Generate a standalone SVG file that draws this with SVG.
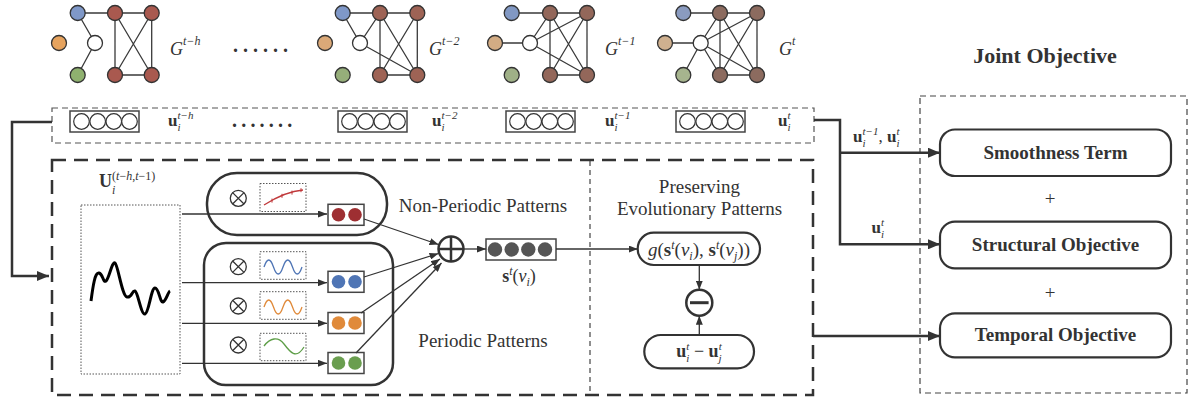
<svg xmlns="http://www.w3.org/2000/svg" width="1189" height="400" viewBox="0 0 1189 400">
<style>
text{font-family:"Liberation Serif","Times New Roman",serif;fill:#333}
.it{font-style:italic}
.b{font-weight:bold}
.e{stroke:#3a3a3a;stroke-width:1.3;fill:none}
.n{stroke:#333;stroke-width:1.3}
.vb{fill:#fff;stroke:#444;stroke-width:1.5}
.vc{fill:#fff;stroke:#333;stroke-width:1.2}
.thick{stroke:#333;stroke-width:2.5;fill:none}
.thin{stroke:#333;stroke-width:1.3;fill:none}
.pill{fill:#fff;stroke:#333;stroke-width:2.2}
.dot{fill:none;stroke:#555;stroke-width:1;stroke-dasharray:1.5 1.5}
</style>
<defs>
<marker id="ab" markerUnits="userSpaceOnUse" markerWidth="12" markerHeight="10" refX="12" refY="5" orient="auto"><path d="M0,0 L12,5 L0,10 z" fill="#333"/></marker>
<marker id="as" markerUnits="userSpaceOnUse" markerWidth="9" markerHeight="7" refX="9" refY="3.5" orient="auto"><path d="M0,0 L9,3.5 L0,7 z" fill="#333"/></marker>
</defs>

<!-- Graphs -->
<g id="graph-t-h">
<g class="e"><path d="M77.7,13 H151.7 M77.7,13 L95,43 L77.7,75 M115,13 V75 M151.7,13 V75 M115,13 L151.7,75 M151.7,13 L115,75 M115,75 H151.7"/></g>
<g class="n"><circle cx="77.7" cy="13" r="7.5" fill="#7f98c8"/><circle cx="115" cy="13" r="7.5" fill="#a9594f"/><circle cx="151.7" cy="13" r="7.5" fill="#a9594f"/><circle cx="59" cy="43" r="7.5" fill="#e6a35e"/><circle cx="95" cy="43" r="7.5" fill="#fff"/><circle cx="77.7" cy="75" r="7.5" fill="#8fb16f"/><circle cx="115" cy="75" r="7.5" fill="#a9594f"/><circle cx="151.7" cy="75" r="7.5" fill="#a9594f"/></g>
<text x="170" y="55" font-size="18" class="it" fill="#444">G<tspan font-size="12" dy="-10">t−h</tspan></text>
</g>
<text x="233" y="52" font-size="20" class="b" letter-spacing="5">......</text>
<g id="graph-t-2">
<g class="e"><path d="M342.7,13 H417.3 M342.7,13 L360,43 L380,13 M380,13 V75 M417.3,13 V75 M380,13 L417.3,75 M417.3,13 L380,75 M380,75 H417.3 M360,43 L417.3,75"/></g>
<g class="n"><circle cx="342.7" cy="13" r="7.5" fill="#7f98c8"/><circle cx="380" cy="13" r="7.5" fill="#9e6355"/><circle cx="417.3" cy="13" r="7.5" fill="#9e6355"/><circle cx="325" cy="43" r="7.5" fill="#dba978"/><circle cx="360" cy="43" r="7.5" fill="#fff"/><circle cx="342.7" cy="75" r="7.5" fill="#96ae7a"/><circle cx="380" cy="75" r="7.5" fill="#9e6355"/><circle cx="417.3" cy="75" r="7.5" fill="#9e6355"/></g>
<text x="429" y="55" font-size="18" class="it" fill="#444">G<tspan font-size="12" dy="-10">t−2</tspan></text>
</g>
<g id="graph-t-1">
<g class="e"><path d="M511.7,13 H587 M495,43 H530 M530,43 L550,13 M530,43 L587,13 M530,43 L587,75 M550,13 V75 M587,13 V75 M550,13 L587,75 M587,13 L550,75 M550,75 H587"/></g>
<g class="n"><circle cx="511.7" cy="13" r="7.5" fill="#8198c3"/><circle cx="550" cy="13" r="7.5" fill="#93675a"/><circle cx="587" cy="13" r="7.5" fill="#93675a"/><circle cx="495" cy="43" r="7.5" fill="#d3ac84"/><circle cx="530" cy="43" r="7.5" fill="#fff"/><circle cx="511.7" cy="75" r="7.5" fill="#9fb087"/><circle cx="550" cy="75" r="7.5" fill="#93675a"/><circle cx="587" cy="75" r="7.5" fill="#93675a"/></g>
<text x="605" y="55" font-size="18" class="it" fill="#444">G<tspan font-size="12" dy="-10">t−1</tspan></text>
</g>
<g id="graph-t">
<g class="e"><path d="M683.3,13 H757 M665,43 H700.7 M700.7,43 L720,13 M700.7,43 L757,13 M700.7,43 L757,75 M700.7,43 L720,75 M700.7,43 L683.3,75 M720,13 V75 M757,13 V75 M720,13 L757,75 M757,13 L720,75 M720,75 H757"/></g>
<g class="n"><circle cx="683.3" cy="13" r="7.5" fill="#8a9bc0"/><circle cx="720" cy="13" r="7.5" fill="#8c6b5f"/><circle cx="757" cy="13" r="7.5" fill="#8c6b5f"/><circle cx="665" cy="43" r="7.5" fill="#cfb08f"/><circle cx="700.7" cy="43" r="7.5" fill="#fff"/><circle cx="683.3" cy="75" r="7.5" fill="#a6b48e"/><circle cx="720" cy="75" r="7.5" fill="#8c6b5f"/><circle cx="757" cy="75" r="7.5" fill="#8c6b5f"/></g>
<text x="779" y="55" font-size="18" class="it" fill="#444">G<tspan font-size="12" dy="-10">t</tspan></text>
</g>

<!-- Embedding row -->
<g id="embeddings">
<rect x="52" y="108" width="762" height="35" fill="none" stroke="#555" stroke-width="1.2" stroke-dasharray="6 4"/>
<g id="emb-t-h"><rect class="vb" x="70" y="111" width="69" height="21"/><circle class="vc" cx="81.5" cy="121.5" r="7.8"/><circle class="vc" cx="97.7" cy="121.5" r="7.8"/><circle class="vc" cx="113.8" cy="121.5" r="7.8"/><circle class="vc" cx="129.5" cy="121.5" r="7.8"/>
<text x="168" y="126" font-size="17"><tspan class="b">u</tspan><tspan class="it" font-size="11" dy="5">i</tspan><tspan class="it" font-size="11" dx="-3" dy="-12">t−h</tspan></text></g>
<text x="232" y="127" font-size="20" class="b" letter-spacing="4.2">.......</text>
<g id="emb-t-2"><rect class="vb" x="338" y="111" width="69" height="21"/><circle class="vc" cx="349.5" cy="121.5" r="7.8"/><circle class="vc" cx="365.7" cy="121.5" r="7.8"/><circle class="vc" cx="381.8" cy="121.5" r="7.8"/><circle class="vc" cx="397.5" cy="121.5" r="7.8"/>
<text x="432" y="126" font-size="17"><tspan class="b">u</tspan><tspan class="it" font-size="11" dy="5">i</tspan><tspan class="it" font-size="11" dx="-3" dy="-12">t−2</tspan></text></g>
<g id="emb-t-1"><rect class="vb" x="506" y="111" width="69" height="21"/><circle class="vc" cx="517.5" cy="121.5" r="7.8"/><circle class="vc" cx="533.7" cy="121.5" r="7.8"/><circle class="vc" cx="549.8" cy="121.5" r="7.8"/><circle class="vc" cx="565.5" cy="121.5" r="7.8"/>
<text x="605" y="126" font-size="17"><tspan class="b">u</tspan><tspan class="it" font-size="11" dy="5">i</tspan><tspan class="it" font-size="11" dx="-3" dy="-12">t−1</tspan></text></g>
<g id="emb-t"><rect class="vb" x="676" y="111" width="69" height="21"/><circle class="vc" cx="687.5" cy="121.5" r="7.8"/><circle class="vc" cx="703.7" cy="121.5" r="7.8"/><circle class="vc" cx="719.8" cy="121.5" r="7.8"/><circle class="vc" cx="735.5" cy="121.5" r="7.8"/>
<text x="778" y="126" font-size="17"><tspan class="b">u</tspan><tspan class="it" font-size="11" dy="5">i</tspan><tspan class="it" font-size="11" dx="-3" dy="-12">t</tspan></text></g>
</g>

<!-- Model box -->
<g id="model">
<rect x="52" y="160" width="761" height="235" fill="none" stroke="#333" stroke-width="2.5" stroke-dasharray="14 8"/>
<line x1="590" y1="161" x2="590" y2="394" stroke="#444" stroke-width="1.2" stroke-dasharray="5 4"/>
<text x="99" y="187" font-size="18" fill="#444"><tspan class="b">U</tspan><tspan class="it" font-size="12" dy="7">i</tspan><tspan font-size="12" dx="-3.3" dy="-14">(<tspan class="it">t</tspan>−<tspan class="it">h</tspan>,<tspan class="it">t</tspan>−1)</tspan></text>
<rect class="dot" x="81" y="205" width="99" height="169"/>
<path d="M91,301 C93,286 95,272 99,273 S103,283 106,281 S112,261 115,263 S122,296 127,297 S132,290 135,291 S141,315 145,314 S151,288 155,288 S160,303 163,302 S168,292 170,291" fill="none" stroke="#000" stroke-width="3" stroke-linejoin="round"/>
</g>

<g id="non-periodic">
<rect x="207" y="173" width="180" height="62" rx="30" fill="none" stroke="#333" stroke-width="2.5"/>
<g class="thin" stroke-width="2"><circle cx="238.3" cy="198.3" r="8"/><path d="M232.6,192.6 L244,204 M244,192.6 L232.6,204"/></g>
<rect class="dot" x="260" y="183.5" width="46" height="28"/>
<path d="M264,205 C275,198 290,191 303,190" fill="none" stroke="#c0393b" stroke-width="1.3"/>
<path d="M272,198.6 v4 M282,193.8 v4 M292,190.6 v4 M301,188.2 v4" stroke="#c0393b" stroke-width="1"/>
<rect class="vb" x="328" y="204.3" width="36" height="21"/>
<circle cx="338.5" cy="214.8" r="6.8" fill="#9e2f32"/><circle cx="355" cy="214.8" r="6.8" fill="#9e2f32"/>
<text x="483" y="211.5" font-size="19" text-anchor="middle">Non-Periodic Patterns</text>
</g>

<g id="periodic">
<rect x="204" y="243" width="189" height="142" rx="22" fill="none" stroke="#333" stroke-width="2.5"/>
<g class="thin" stroke-width="2"><circle cx="238.3" cy="266.7" r="8"/><path d="M232.6,261 L244,272.4 M244,261 L232.6,272.4"/>
<circle cx="238.3" cy="306" r="8"/><path d="M232.6,300.3 L244,311.7 M244,300.3 L232.6,311.7"/>
<circle cx="238.3" cy="345" r="8"/><path d="M232.6,339.3 L244,350.7 M244,339.3 L232.6,350.7"/></g>
<rect class="dot" x="260" y="251.7" width="46" height="27.6"/>
<path d="M264,267 q4.75,-14 9.5,0 t9.5,0 t9.5,0 t9.5,0" fill="none" stroke="#4f75b5" stroke-width="1.3"/>
<rect class="dot" x="260" y="291.7" width="46" height="27.6"/>
<path d="M264,307 q4.75,-14 9.5,0 t9.5,0 t9.5,0 t9.5,0" fill="none" stroke="#e08a3a" stroke-width="1.3"/>
<rect class="dot" x="260" y="333.3" width="46" height="27.4"/>
<path d="M264,346 C270,338 278,336 284,344 S296,360 304,347" fill="none" stroke="#5e9e48" stroke-width="1.3"/>
<rect class="vb" x="328" y="271.3" width="36" height="21"/>
<circle cx="338.5" cy="281.8" r="6.8" fill="#4f75b5"/><circle cx="355" cy="281.8" r="6.8" fill="#4f75b5"/>
<rect class="vb" x="328" y="312.5" width="36" height="21"/>
<circle cx="338.5" cy="323" r="6.8" fill="#e08a3a"/><circle cx="355" cy="323" r="6.8" fill="#e08a3a"/>
<rect class="vb" x="328" y="352.5" width="36" height="21"/>
<circle cx="338.5" cy="363" r="6.8" fill="#6a9e4f"/><circle cx="355" cy="363" r="6.8" fill="#6a9e4f"/>
<text x="483" y="347" font-size="19" text-anchor="middle">Periodic Patterns</text>
</g>

<g id="sum">
<circle cx="451" cy="249" r="12.5" fill="#fff" stroke="#333" stroke-width="2.5"/>
<path d="M451,236.5 V261.5 M438.5,249 H463.5" stroke="#333" stroke-width="2.5"/>
</g>

<g id="s-vector">
<rect class="vb" x="486" y="239" width="70" height="21"/>
<circle cx="495" cy="249.5" r="7.2" fill="#555"/><circle cx="511.7" cy="249.5" r="7.2" fill="#555"/><circle cx="528.3" cy="249.5" r="7.2" fill="#555"/><circle cx="545" cy="249.5" r="7.2" fill="#555"/>
<text x="519" y="282" font-size="18" text-anchor="middle"><tspan class="b">s</tspan><tspan class="it" font-size="12" dy="-7">t</tspan><tspan dy="7">(</tspan><tspan class="it">v</tspan><tspan class="it" font-size="12" dy="4">i</tspan><tspan dy="-4">)</tspan></text>
</g>

<g id="evolution">
<text x="699.5" y="193" font-size="19" text-anchor="middle">Preserving</text>
<text x="699.5" y="215" font-size="19" text-anchor="middle">Evolutionary Patterns</text>
<g id="g-func"><rect class="pill" x="637.7" y="232.7" width="122.3" height="32.3" rx="16"/>
<text x="699" y="256" font-size="19" text-anchor="middle"><tspan class="it">g</tspan><tspan>(</tspan><tspan class="b">s</tspan><tspan class="it" font-size="12" dy="-7">t</tspan><tspan dy="7">(</tspan><tspan class="it">v</tspan><tspan class="it" font-size="12" dy="4">i</tspan><tspan dy="-4">), </tspan><tspan class="b">s</tspan><tspan class="it" font-size="12" dy="-7">t</tspan><tspan dy="7">(</tspan><tspan class="it">v</tspan><tspan class="it" font-size="12" dy="4">j</tspan><tspan dy="-4">))</tspan></text></g>
<g id="minus"><circle cx="699.3" cy="302.7" r="13" fill="#fff" stroke="#333" stroke-width="2.5"/><path d="M690,302.7 H708.6" stroke="#333" stroke-width="3"/></g>
<g id="u-diff"><rect class="pill" x="644.3" y="335" width="109.7" height="33.3" rx="16.5"/>
<text x="699" y="357" font-size="18" text-anchor="middle"><tspan class="b">u</tspan><tspan class="it" font-size="11" dy="5">i</tspan><tspan class="it" font-size="11" dx="-3" dy="-12">t</tspan><tspan dy="7"> − </tspan><tspan class="b">u</tspan><tspan class="it" font-size="11" dy="5">j</tspan><tspan class="it" font-size="11" dx="-3" dy="-12">t</tspan></text></g>
</g>

<!-- Joint objective -->
<g id="joint">
<text x="1045" y="63" font-size="22" class="b" text-anchor="middle">Joint Objective</text>
<rect x="920" y="96" width="267" height="297" fill="none" stroke="#444" stroke-width="1.2" stroke-dasharray="6 4"/>
<g id="smooth"><rect class="pill" x="940" y="129.5" width="231" height="46.5" rx="15"/><text x="1055.5" y="158.5" font-size="19" class="b" text-anchor="middle">Smoothness Term</text></g>
<text x="1050" y="205" font-size="19" text-anchor="middle">+</text>
<g id="structural"><rect class="pill" x="940" y="221.7" width="231" height="46.6" rx="15"/><text x="1055.5" y="250.5" font-size="19" class="b" text-anchor="middle">Structural Objective</text></g>
<text x="1050" y="298.5" font-size="19" text-anchor="middle">+</text>
<g id="temporal"><rect class="pill" x="940" y="313.3" width="231" height="44" rx="15"/><text x="1055.5" y="341" font-size="19" class="b" text-anchor="middle">Temporal Objective</text></g>
</g>

<!-- Connectors -->
<g id="connectors">
<path class="thick" d="M52,122 H12 V276 H49" marker-end="url(#ab)"/>
<path class="thin" d="M182,214 H327" marker-end="url(#as)"/>
<path class="thin" d="M182,282.7 H327" marker-end="url(#as)"/>
<path class="thin" d="M182,323.3 H327" marker-end="url(#as)"/>
<path class="thin" d="M182,363.3 H327" marker-end="url(#as)"/>
<path class="thin" d="M364,219 L438.5,244.5" marker-end="url(#as)"/>
<path class="thin" d="M364,277 L438.5,253.5" marker-end="url(#as)"/>
<path class="thin" d="M361,313 L440,259" marker-end="url(#as)"/>
<path class="thin" d="M356,353 L441.5,263" marker-end="url(#as)"/>
<path class="thin" d="M463.5,249 H486" marker-end="url(#as)"/>
<path class="thin" d="M556,249 H637.7" marker-end="url(#as)"/>
<path class="thin" d="M699.3,265 V289.7" marker-end="url(#as)"/>
<path class="thin" d="M699.3,335 V315.7" marker-end="url(#as)"/>
<path class="thick" d="M814,120 H840 V244.3 H940" marker-end="url(#ab)"/>
<path class="thick" d="M840,152.7 H940" marker-end="url(#ab)"/>
<path class="thick" d="M813,336 H940" marker-end="url(#ab)"/>
<text x="853" y="141.5" font-size="17"><tspan class="b">u</tspan><tspan class="it" font-size="11" dy="5">i</tspan><tspan class="it" font-size="11" dx="-3" dy="-12">t−1</tspan><tspan dy="7">, </tspan><tspan class="b">u</tspan><tspan class="it" font-size="11" dy="5">i</tspan><tspan class="it" font-size="11" dx="-3" dy="-12">t</tspan></text>
<text x="871.5" y="232.5" font-size="17"><tspan class="b">u</tspan><tspan class="it" font-size="11" dy="5">i</tspan><tspan class="it" font-size="11" dx="-3" dy="-12">t</tspan></text>
</g>
</svg>
